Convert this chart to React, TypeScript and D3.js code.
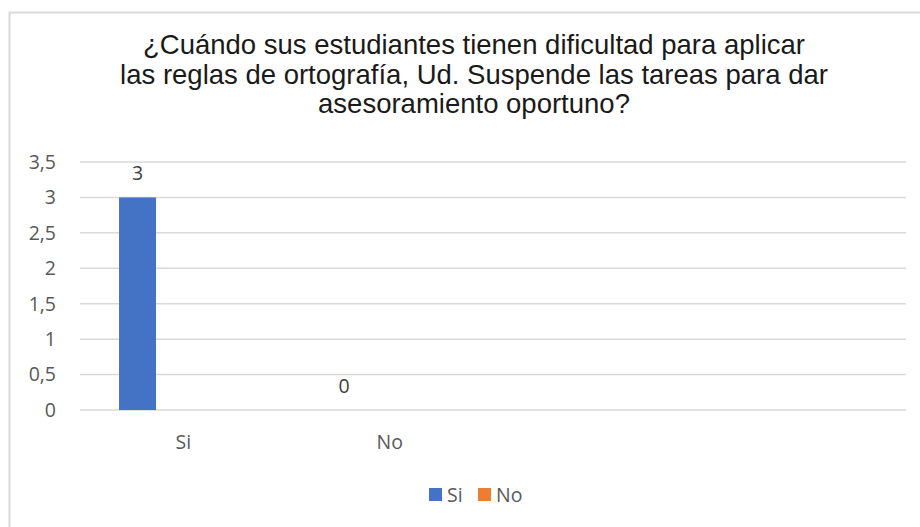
import React from "react";
import * as d3 from "d3";

const titleLines = [
  "¿Cuándo sus estudiantes tienen dificultad para aplicar",
  "las reglas de ortografía, Ud. Suspende las tareas para dar",
  "asesoramiento oportuno?",
];
const categories = ["Si", "No", "", ""];
const seriesNames = ["Si", "No"];
const siValues: (number | null)[] = [3, null, null, null];
const noValues: (number | null)[] = [null, 0, null, null];
const yTicks = [0, 0.5, 1, 1.5, 2, 2.5, 3, 3.5];
const colors = ["#4472C4", "#ED7D31"];

const W = 920;
const H = 527;
const plotLeft = 80;
const plotRight = 906;
const plotBottom = 410;
const plotTop = 162;
const tickFont = "'Open Sans', 'Liberation Sans', sans-serif";
const tickSize = 19.5;

export default function App() {
  const x = d3
    .scaleBand<number>()
    .domain(d3.range(categories.length))
    .range([plotLeft, plotRight])
    .padding(0);
  const y = d3.scaleLinear().domain([0, 3.5]).range([plotBottom, plotTop]);
  const bw = x.bandwidth();
  const barOffset = bw * 0.189;
  const barWidth = bw * 0.179;
  const fmt = (v: number) => String(v).replace(".", ",");
  const series = [siValues, noValues];

  return (
    <svg
      width={W}
      height={H}
      style={{ position: "absolute", left: 0, top: 0, display: "block", background: "#fff" }}
    >
      <rect x={9.5} y={12.5} width={W} height={H} fill="#fff" stroke="#d9d9d9" strokeWidth={2} />
      {titleLines.map((t, i) => (
        <text
          key={i}
          x={474}
          y={54 + i * 29.5}
          textAnchor="middle"
          fontFamily="'Liberation Sans', Arial, sans-serif"
          fontSize={27.5}
          fill="#1a1a1a"
        >
          {t}
        </text>
      ))}
      {yTicks.map((t) => (
        <g key={t}>
          <line
            x1={plotLeft}
            x2={plotRight}
            y1={y(t)}
            y2={y(t)}
            stroke="#d9d9d9"
            strokeWidth={1.5}
          />
          <text
            x={56}
            y={y(t)}
            dy="0.35em"
            textAnchor="end"
            fontFamily={tickFont}
            fontSize={tickSize}
            fill="#595959"
          >
            {fmt(t)}
          </text>
        </g>
      ))}
      {series.map((vals, si) =>
        vals.map((v, ci) =>
          v === null ? null : (
            <g key={`${si}-${ci}`}>
              <rect
                x={(x(ci) as number) + barOffset}
                y={y(v)}
                width={barWidth}
                height={y(0) - y(v)}
                fill={colors[si]}
              />
              <text
                x={(x(ci) as number) + barOffset + barWidth / 2}
                y={y(v) - 24}
                dy="0.35em"
                textAnchor="middle"
                fontFamily={tickFont}
                fontSize={tickSize}
                fill="#404040"
              >
                {fmt(v)}
              </text>
            </g>
          )
        )
      )}
      {categories.map((c, i) => (
        <text
          key={i}
          x={(x(i) as number) + bw / 2}
          y={442}
          dy="0.35em"
          textAnchor="middle"
          fontFamily={tickFont}
          fontSize={tickSize}
          fill="#595959"
        >
          {c}
        </text>
      ))}
      {seriesNames.map((n, i) => {
        const lx = [429, 478][i];
        return (
          <g key={n}>
            <rect x={lx} y={488} width={13} height={13} fill={colors[i]} />
            <text
              x={lx + 18}
              y={495}
              dy="0.35em"
              fontFamily={tickFont}
              fontSize={tickSize}
              fill="#595959"
            >
              {n}
            </text>
          </g>
        );
      })}
    </svg>
  );
}
